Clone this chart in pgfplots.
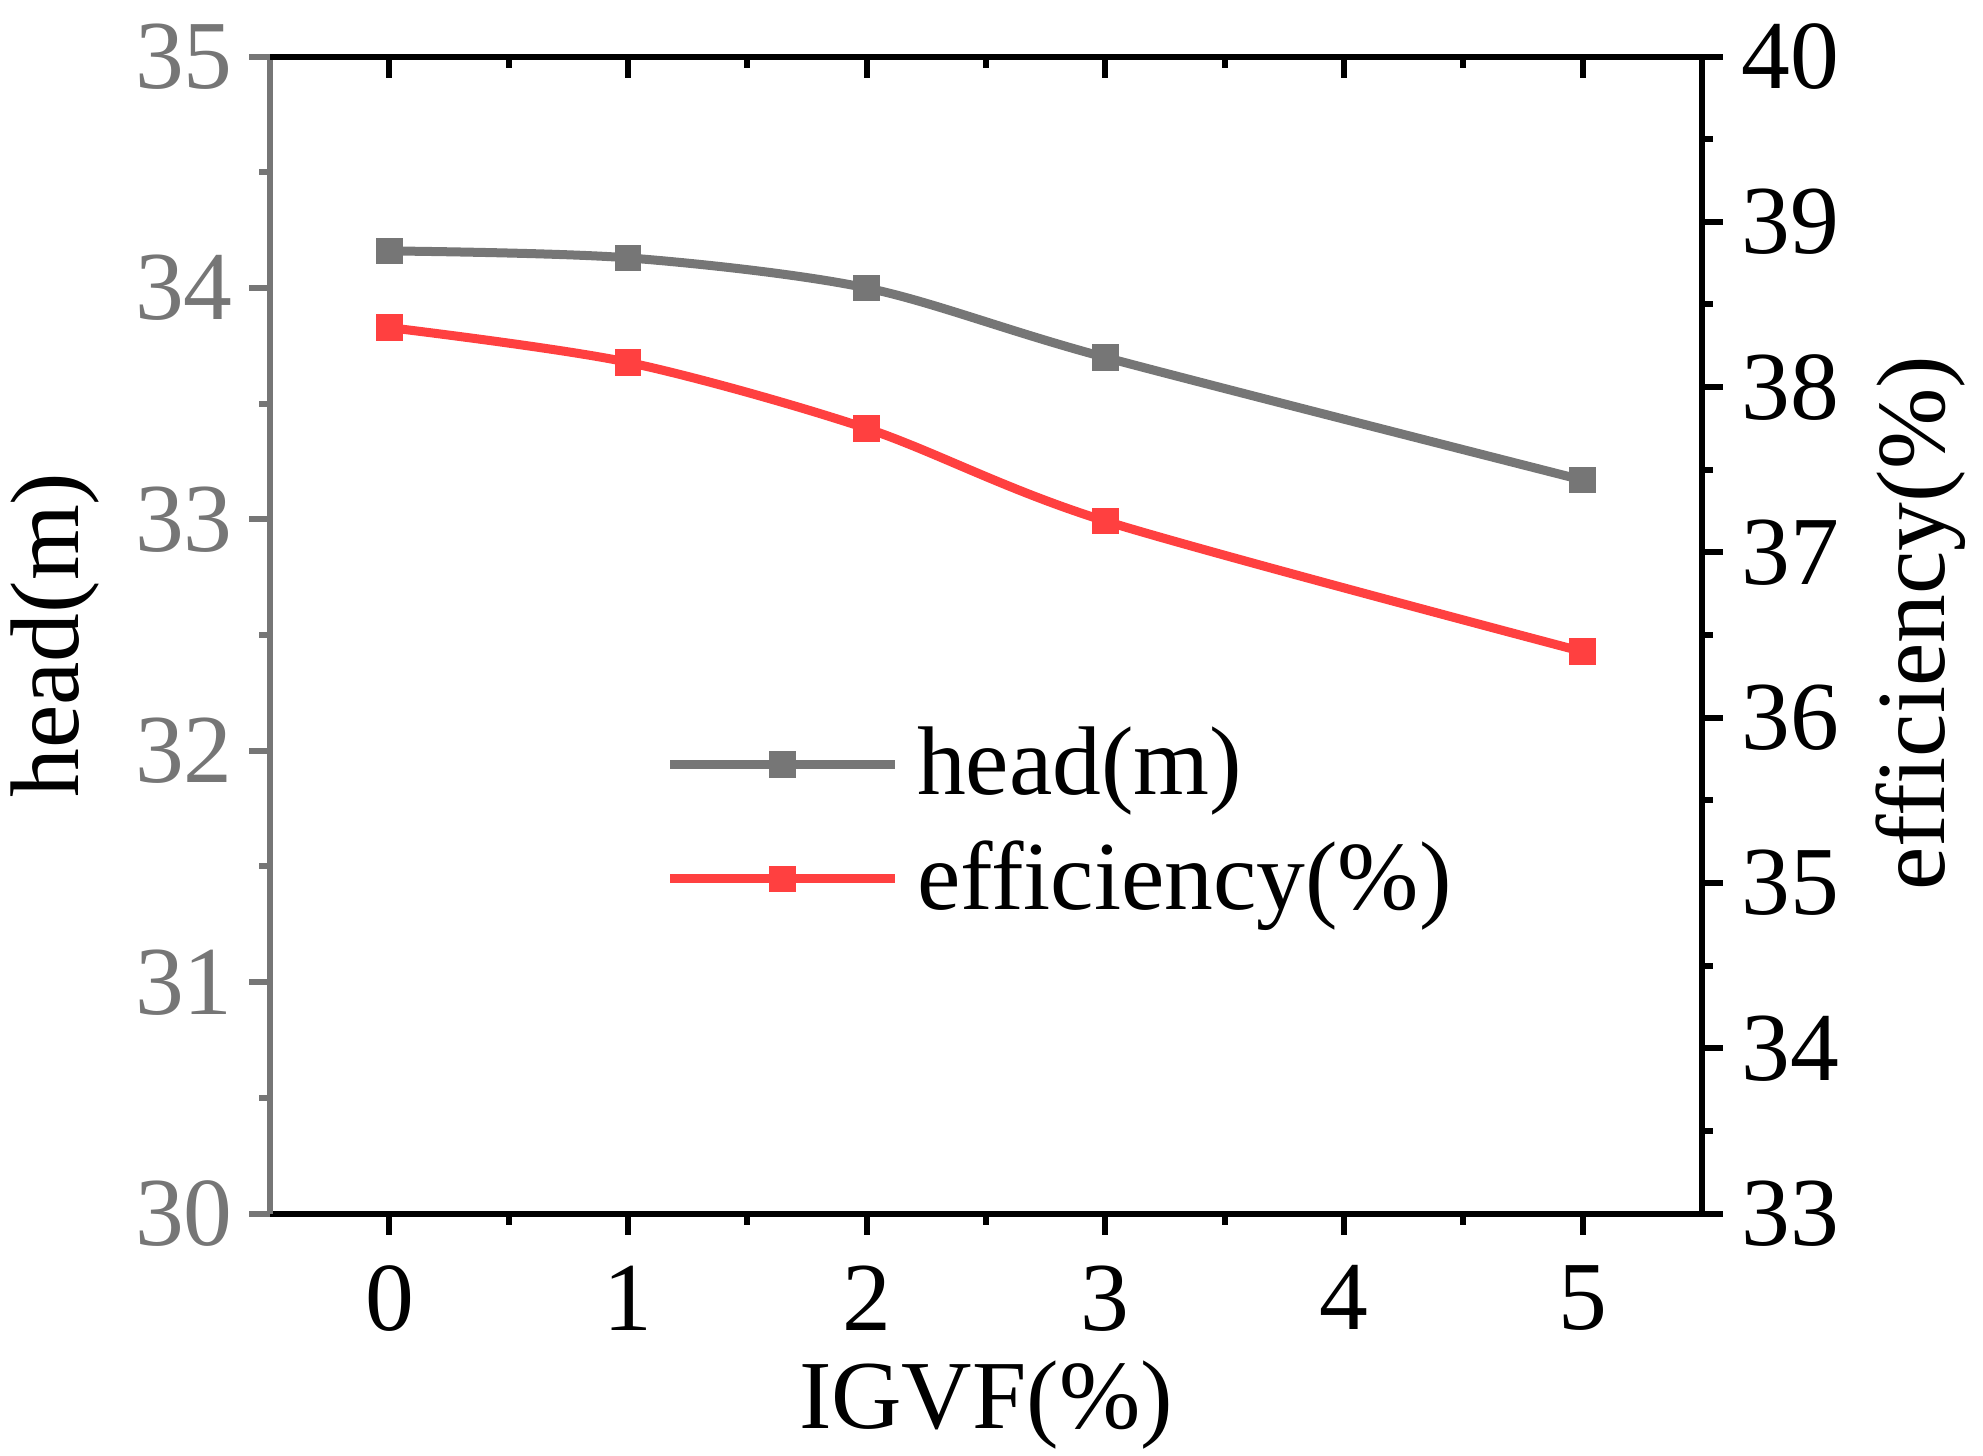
\documentclass[border=0pt]{standalone}
\usepackage{pgfplots}
\pgfplotsset{compat=1.18}
\usepackage{fontspec}
\setmainfont{Liberation Serif}
\definecolor{hgray}{RGB}{118,118,118}
\definecolor{ered}{RGB}{255,64,64}
\newcommand{\bigf}{\fontsize{19.5}{23.5}\selectfont}
\pgfplotsset{
  common/.style={
    at={(0pt,0pt)}, anchor=south west,
    scale only axis, width=286.2pt, height=231.3pt,
    xmin=-0.5, xmax=5.5,
    xtick={0,1,2,3,4,5},
    minor x tick num=1, minor y tick num=1,
    major tick length=4.2pt, minor tick length=2.2pt,
    every tick/.style={line width=1.2pt},
    every minor tick/.style={line width=1.2pt},
    axis line style={line width=1.2pt},
    /pgf/number format/assume math mode=true,
    tick label style={font=\bigf},
    label style={font=\bigf, inner sep=0pt},
    clip=false,
  }
}
\begin{document}
\begin{tikzpicture}
\useasboundingbox (-54pt,-48.4pt) rectangle (342.4pt,242.6pt);
% left axis (head) with bottom x axis
\begin{axis}[common, name=A,
  axis x line*=bottom, axis y line*=left,
  tick align=outside,
  ymin=30, ymax=35, ytick={30,31,32,33,34,35},
  y axis line style={hgray},
  every y tick/.style={hgray, line width=1.2pt},
  every minor y tick/.style={hgray, line width=1.2pt},
  yticklabel style={text=hgray, inner sep=0pt, anchor=east, xshift=-3.1pt},
  xticklabel style={inner sep=0pt, anchor=north, yshift=-6pt},
  xlabel={IGVF(\%)},
  xlabel style={at={(axis description cs:0.5,-0.186)}, anchor=base},
  ylabel={head(m)},
  ylabel style={at={(axis description cs:-0.150,0.5)}, anchor=center},
]
\addplot[hgray, line width=1.8pt, smooth, mark=square*, mark size=2.4pt,
  mark options={solid, fill=hgray, line width=0.5pt}]
  coordinates {(0,34.16) (1,34.13) (2,34.00) (3,33.70) (5,33.17)};
\end{axis}
% top axis with inward ticks
\begin{axis}[common,
  axis x line*=top, axis y line=none,
  tick align=inside,
  ymin=30, ymax=35,
  xticklabels={},
]
\end{axis}
% right axis (efficiency)
\begin{axis}[common,
  axis x line=none, axis y line*=right,
  tick align=outside,
  ymin=33, ymax=40, ytick={33,34,35,36,37,38,39,40},
  yticklabel style={inner sep=0pt, anchor=west, xshift=3.6pt},
  ylabel={efficiency(\%)},
  ylabel style={at={(axis description cs:1.1526,0.51)}, anchor=center},
  legend style={draw=none, fill=none, at={(axis description cs:0.265,0.439)}, anchor=north west,
    font=\bigf, row sep=3.8pt, legend cell align=left,
    /tikz/every odd column/.append style={column sep=1.5pt}},
  legend image code/.code={\draw[mark repeat=2, mark phase=2, #1] plot coordinates {(0pt,0pt) (22.5pt,0pt) (45pt,0pt)};},
]
\addlegendimage{hgray, line width=1.8pt, mark=square*, mark size=2.4pt, mark options={solid, fill=hgray, line width=0.5pt}}
\addlegendentry{head(m)}
\addplot[ered, line width=1.8pt, smooth, mark=square*, mark size=2.4pt,
  mark options={solid, fill=ered, line width=0.5pt}]
  coordinates {(0,38.36) (1,38.15) (2,37.75) (3,37.19) (5,36.40)};
\addlegendentry{efficiency(\%)}
\end{axis}
\end{tikzpicture}
\end{document}
